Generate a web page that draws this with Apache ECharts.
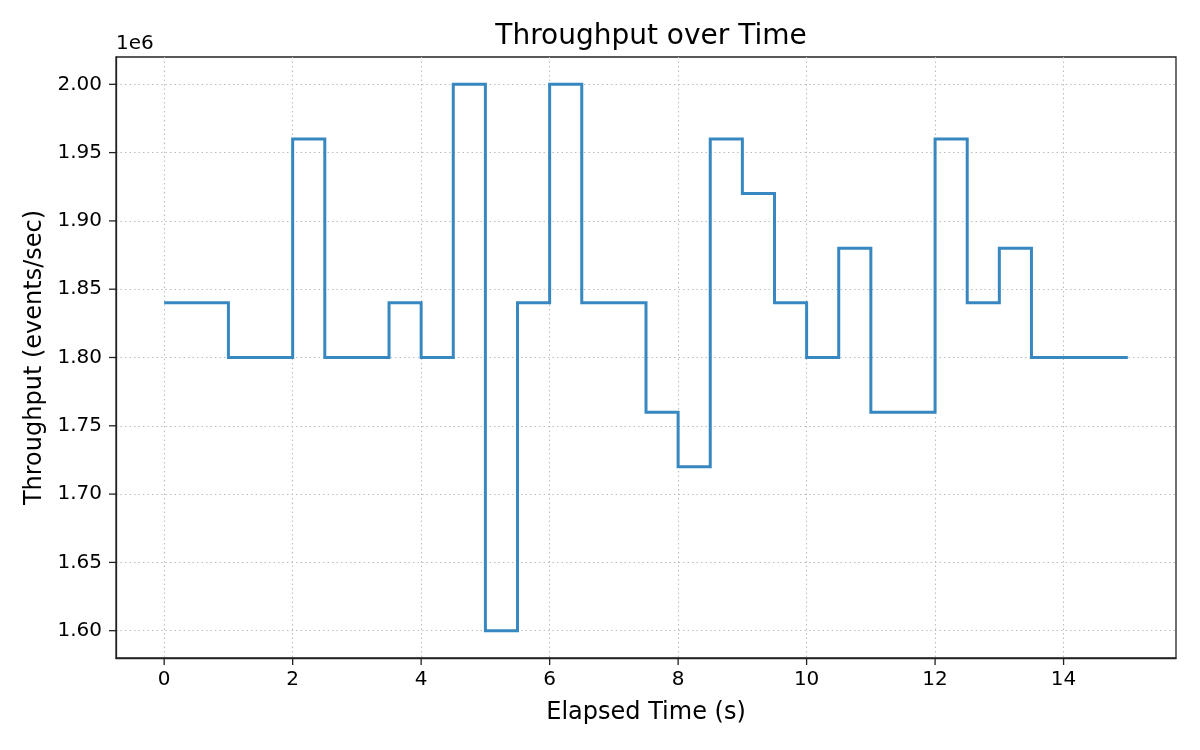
<!DOCTYPE html>
<html>
<head>
<meta charset="utf-8">
<script src="https://cdn.jsdelivr.net/npm/echarts@6/dist/echarts.min.js"></script>
<style>
  html, body { margin: 0; padding: 0; background: #fff; }
  #main { width: 1200px; height: 750px; }
</style>
</head>
<body>
<div id="main"></div>
<script>
// elapsed time (s), sampled every half second
const times = [0, 0.5, 1, 1.5, 2, 2.5, 3, 3.5, 4, 4.5, 5, 5.5, 6, 6.5, 7, 7.5,
  8, 8.5, 9, 9.5, 10, 10.5, 11, 11.5, 12, 12.5, 13, 13.5, 14, 14.5, 15];
// throughput (events/sec)
const throughput = [1840000, 1840000, 1800000, 1800000, 1960000, 1800000, 1800000,
  1840000, 1800000, 2000000, 1600000, 1840000, 2000000, 1840000, 1840000, 1760000,
  1720000, 1960000, 1920000, 1840000, 1800000, 1880000, 1760000, 1760000, 1960000,
  1840000, 1880000, 1800000, 1800000, 1800000, 1800000];

const xTicks = [0, 2, 4, 6, 8, 10, 12, 14];
const yTicks = [1600000, 1650000, 1700000, 1750000, 1800000, 1850000, 1900000, 1950000, 2000000];

const font = "DejaVu Sans";
const chart = echarts.init(document.getElementById("main"));

const gridLine = { show: true, lineStyle: { color: "#bdbdbd", type: [1.5, 3], width: 1.1 } };
const frame = { show: true, onZero: false, lineStyle: { color: "#222", width: 1.3 } };
const plotLeft = 116, plotBottom = 658, tickLen = 7;

const option = {
  animation: false,
  textStyle: { fontFamily: font },
  title: {
    text: "Throughput over Time",
    left: 646,
    textAlign: "center",
    top: 18,
    textStyle: { fontFamily: font, fontSize: 28, fontWeight: "normal", color: "#000" },
  },
  grid: {
    left: plotLeft,
    right: 24,
    top: 57,
    bottom: 750 - plotBottom,
    show: true,
    borderColor: "#222",
    borderWidth: 1.3,
  },
  xAxis: {
    type: "value",
    min: -0.75,
    max: 15.75,
    name: "Elapsed Time (s)",
    nameLocation: "middle",
    nameGap: 43,
    nameTextStyle: { fontFamily: font, fontSize: 24, color: "#000" },
    axisLine: frame,
    axisTick: { show: false, customValues: xTicks },
    axisLabel: { customValues: xTicks, fontFamily: font, fontSize: 20, color: "#000", margin: 12 },
    splitLine: gridLine,
  },
  yAxis: {
    type: "value",
    min: 1580000,
    max: 2020000,
    name: "Throughput (events/sec)",
    nameLocation: "middle",
    nameGap: 69,
    nameTextStyle: { fontFamily: font, fontSize: 24, color: "#000" },
    axisLine: frame,
    axisTick: { show: false, customValues: yTicks },
    axisLabel: {
      customValues: yTicks,
      fontFamily: font,
      fontSize: 20,
      color: "#000",
      margin: 14,
      formatter: (v) => (v / 1e6).toFixed(2),
    },
    splitLine: gridLine,
  },
  series: [{
    type: "line",
    step: "end",
    symbol: "none",
    data: times.map((t, i) => [t, throughput[i]]),
    lineStyle: { color: "#3787c0", width: 3, join: "miter" },
  }],
};

chart.setOption(option);

// outward tick marks placed through the axis scales
const tickStyle = { stroke: "#222", lineWidth: 1.3 };
const graphics = [{
  type: "text",
  left: plotLeft,
  top: 34,
  style: { text: "1e6", font: "20px " + font, fill: "#000" },
}];
xTicks.forEach((v) => {
  const px = chart.convertToPixel({ xAxisIndex: 0 }, v);
  graphics.push({ type: "line", shape: { x1: px, y1: plotBottom, x2: px, y2: plotBottom + tickLen }, style: tickStyle, z: 10 });
});
yTicks.forEach((v) => {
  const py = chart.convertToPixel({ yAxisIndex: 0 }, v);
  graphics.push({ type: "line", shape: { x1: plotLeft - tickLen, y1: py, x2: plotLeft, y2: py }, style: tickStyle, z: 10 });
});
chart.setOption({ graphic: graphics });
</script>
</body>
</html>
